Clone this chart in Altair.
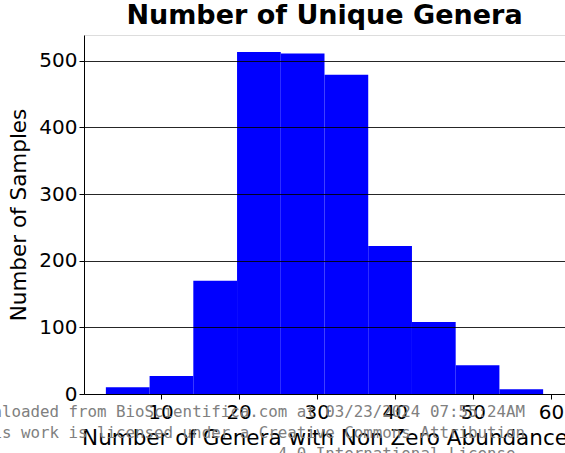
import altair as alt
import pandas as pd

# Histogram bins (edges) and sample counts per bin
bin_start = [3.0, 8.6, 14.2, 19.8, 25.4, 31.0, 36.6, 42.2, 47.8, 53.4]
bin_end = [8.6, 14.2, 19.8, 25.4, 31.0, 36.6, 42.2, 47.8, 53.4, 59.0]
counts = [10, 27, 170, 513, 511, 479, 222, 108, 43, 7]

x_ticks = [10, 20, 30, 40, 50, 60]
y_ticks = [0, 100, 200, 300, 400, 500]

notice_lines = [
    "Downloaded from BioScientifica.com at 03/23/2024 07:55:24AM",
    "This work is licensed under a Creative Commons Attribution",
    "4.0 International License.",
]

hist = pd.DataFrame({"start": bin_start, "end": bin_end, "count": counts})
notice = pd.DataFrame({"line": notice_lines, "row": [0, 1, 2]})

FONT = "DejaVu Sans"

bars = alt.Chart(hist).mark_rect(color="#0000ff").encode(
    x=alt.X(
        "start:Q",
        scale=alt.Scale(domain=[0.2, 61.8], nice=False, zero=False),
        axis=alt.Axis(
            title="Number of Genera with Non Zero Abundance",
            values=x_ticks,
            format="d",
            grid=False,
            domain=True,
            domainColor="#000",
            domainWidth=1,
            tickColor="#000",
            tickSize=5,
            tickWidth=1,
            labelFont=FONT,
            labelFontSize=20,
            labelColor="#000",
            labelPadding=3,
            titleFont=FONT,
            titleFontSize=21.5,
            titleFontWeight="normal",
            titleColor="#000",
            titleBaseline="alphabetic",
            titleY=50,
        ),
    ),
    x2="end:Q",
    y=alt.Y(
        "count:Q",
        scale=alt.Scale(domain=[0, 538.65], nice=False),
        axis=alt.Axis(
            title="Number of Samples",
            values=y_ticks,
            format="d",
            grid=True,
            gridColor="#000",
            gridWidth=1,
            gridOpacity=0.85,
            zindex=1,
            domain=True,
            domainColor="#000",
            domainWidth=1,
            tickColor="#000",
            tickSize=5,
            tickWidth=1,
            labelFont=FONT,
            labelFontSize=20,
            labelColor="#000",
            labelPadding=2,
            titleFont=FONT,
            titleFontSize=21.5,
            titleFontWeight="normal",
            titleColor="#000",
            titleBaseline="alphabetic",
            titleX=-59,
        ),
    ),
    y2=alt.datum(0),
)

watermark = alt.Chart(notice).mark_text(
    font="DejaVu Sans Mono",
    fontSize=15.8,
    color="#808080",
    align="right",
    baseline="middle",
).encode(
    text="line:N",
    x=alt.value(441),
    y=alt.Y("row:Q", axis=None, scale=alt.Scale(domain=[0, 2], range=[377, 419], nice=False, zero=False)),
)

chart = (
    alt.layer(bars, watermark)
    .resolve_scale(y="independent")
    .properties(
        width=481,
        height=359,
        autosize=alt.AutoSizeParams(type="none"),
        padding={"left": 84, "top": 35, "right": 0, "bottom": 59},
        title=alt.TitleParams(
            "Number of Unique Genera",
            font=FONT,
            fontSize=27,
            fontWeight="bold",
            color="#000",
            anchor="middle",
            offset=5,
        ),
    )
    .configure_view(stroke="#000", strokeWidth=1)
    .configure(background="white")
)

chart.save("out.html", embed_options={"renderer": "svg", "actions": False})
